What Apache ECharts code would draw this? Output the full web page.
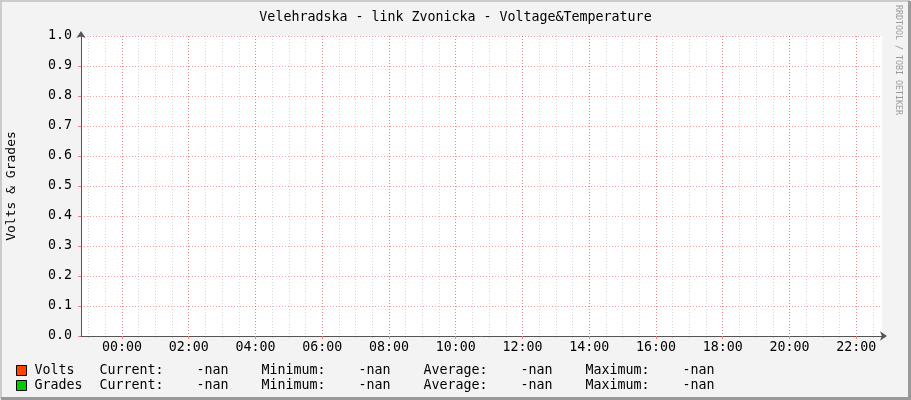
<!DOCTYPE html>
<html>
<head>
<meta charset="utf-8">
<script src="https://cdn.jsdelivr.net/npm/echarts@6/dist/echarts.min.js"></script>
<style>
  html, body { margin: 0; padding: 0; background: #f3f3f3; }
  #main { width: 911px; height: 400px; }
</style>
</head>
<body>
<div id="main"></div>
<script>
// rrdtool style daily graph, no data collected (all -nan)
var titleText = 'Velehradska - link Zvonicka - Voltage&Temperature';
var yName = 'Volts & Grades';

// time range in hours relative to midnight
var startHour = -1.228;
var endHour = 22.772;
var majorHours = [0, 2, 4, 6, 8, 10, 12, 14, 16, 18, 20, 22];
var minorHours = [-1, -0.5, 0, 0.5, 1, 1.5, 2, 2.5, 3, 3.5, 4, 4.5, 5, 5.5, 6, 6.5,
  7, 7.5, 8, 8.5, 9, 9.5, 10, 10.5, 11, 11.5, 12, 12.5, 13, 13.5, 14, 14.5,
  15, 15.5, 16, 16.5, 17, 17.5, 18, 18.5, 19, 19.5, 20, 20.5, 21, 21.5, 22, 22.5];

var seriesNames = ['Volts', 'Grades'];
var seriesColors = ['#ff4400', '#00cc00'];
var voltsValues = [];
var gradesValues = [];

// legend stats
var statLabels = ['Current:', 'Minimum:', 'Average:', 'Maximum:'];
var voltsStats = ['-nan', '-nan', '-nan', '-nan'];
var gradesStats = ['-nan', '-nan', '-nan', '-nan'];

var mono = "'DejaVu Sans Mono', monospace";
var fs = 13.3;
var chart = echarts.init(document.getElementById('main'));

function pad2(n) { return (n < 10 ? '0' : '') + n; }

function legendText(name) {
  var st = name === 'Volts' ? voltsStats : gradesStats;
  var s = '{n|' + name + '}';
  for (var i = 0; i < statLabels.length; i++) {
    s += '{l|' + statLabels[i] + '}{v|' + st[i] + '}';
  }
  return s;
}

var majorLine = { color: 'rgba(240,40,40,0.45)', type: [1, 2], width: 1 };
var minorLine = { color: 'rgba(150,150,150,0.4)', type: [1, 2], width: 1 };

var option = {
  backgroundColor: '#f3f3f3',
  animation: false,
  title: {
    text: titleText,
    left: 'center',
    top: 6,
    textStyle: { fontFamily: mono, fontSize: fs, fontWeight: 'normal', color: '#000' }
  },
  grid: {
    left: 81, right: 29, top: 36, bottom: 64,
    outerBoundsMode: 'none',
    containLabel: false,
    show: true, backgroundColor: '#ffffff', borderWidth: 0
  },
  legend: {
    orient: 'vertical',
    left: 16,
    top: 363,
    icon: 'rect',
    itemWidth: 10,
    itemHeight: 10,
    itemGap: 0,
    padding: 0,
    selectedMode: false,
    data: seriesNames,
    itemStyle: { borderColor: '#000', borderWidth: 1 },
    formatter: legendText,
    textStyle: {
      fontFamily: mono, fontSize: fs, color: '#000', lineHeight: 15, padding: [0, 0, 0, 3],
      rich: {
        n: { fontFamily: mono, fontSize: fs, width: 65 },
        l: { fontFamily: mono, fontSize: fs, width: 97 },
        v: { fontFamily: mono, fontSize: fs, width: 65 }
      }
    }
  },
  xAxis: [{
    type: 'value',
    min: startHour,
    max: endHour,
    position: 'bottom',
    z: 3,
    axisLine: {
      show: true,
      onZero: false,
      lineStyle: { color: '#555', width: 1 },
      symbol: ['none', 'arrow'],
      symbolSize: [7, 7],
      symbolOffset: [0, 5]
    },
    axisTick: { show: true, customValues: majorHours, length: 3, lineStyle: { color: '#f08080' } },
    axisLabel: {
      customValues: majorHours,
      margin: 5,
      fontFamily: mono, fontSize: fs, color: '#000',
      formatter: function (v) { return pad2(Math.round(v)) + ':00'; }
    },
    splitLine: { show: true, lineStyle: majorLine }
  }, {
    type: 'value',
    min: startHour,
    max: endHour,
    position: 'bottom',
    z: 1,
    axisLine: { show: false, onZero: false },
    axisTick: { show: true, customValues: minorHours, length: 2, lineStyle: { color: '#ccc' } },
    axisLabel: { show: false, customValues: minorHours },
    splitLine: { show: true, lineStyle: minorLine }
  }],
  yAxis: {
    type: 'value',
    min: 0,
    max: 1,
    interval: 0.1,
    name: yName,
    nameLocation: 'middle',
    nameRotate: 90,
    nameGap: 63,
    nameTextStyle: { fontFamily: mono, fontSize: 13, color: '#000' },
    axisLine: {
      show: true,
      onZero: false,
      lineStyle: { color: '#555', width: 1 },
      symbol: ['none', 'arrow'],
      symbolSize: [7, 7],
      symbolOffset: [0, 5]
    },
    axisTick: { show: true, length: 3, lineStyle: { color: '#f08080' } },
    axisLabel: {
      margin: 9,
      padding: [3, 0, 0, 0],
      fontFamily: mono, fontSize: fs, color: '#000',
      formatter: function (v) { return v.toFixed(1); }
    },
    splitLine: { show: true, lineStyle: majorLine }
  },
  series: [{
    name: seriesNames[0],
    type: 'line',
    showSymbol: false,
    color: seriesColors[0],
    data: voltsValues
  }, {
    name: seriesNames[1],
    type: 'line',
    showSymbol: false,
    color: seriesColors[1],
    data: gradesValues
  }],
  graphic: [{
    type: 'text',
    x: 902,
    y: 5,
    rotation: -Math.PI / 2,
    style: { text: 'RRDTOOL / TOBI OETIKER', fontFamily: mono, fontSize: 8.3, fill: '#9a9a9a' }
  }, {
    type: 'polyline',
    shape: { points: [[1, 399], [1, 1], [910, 1]] },
    style: { stroke: '#cbcbcb', lineWidth: 2, fill: null }
  }, {
    type: 'polyline',
    shape: { points: [[1, 398.5], [909.5, 398.5], [909.5, 1]] },
    style: { stroke: '#999999', lineWidth: 3, fill: null }
  }]
};

chart.setOption(option);
</script>
</body>
</html>
